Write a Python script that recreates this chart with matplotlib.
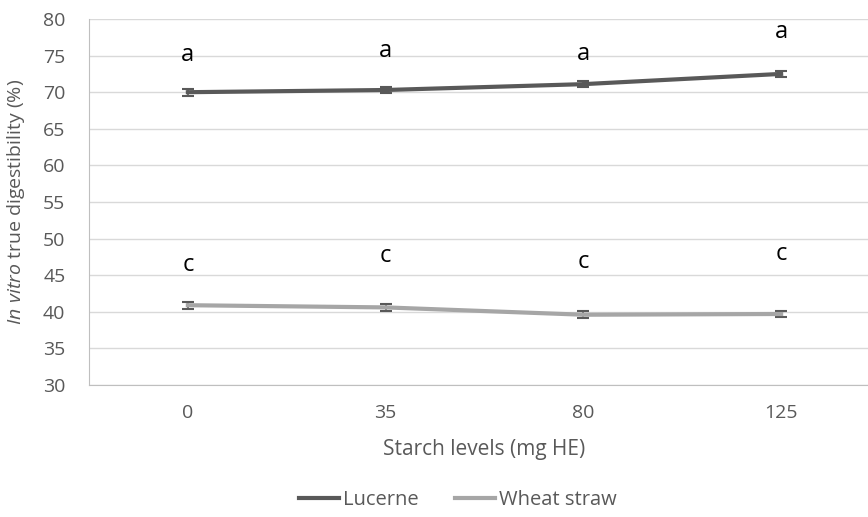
import matplotlib.pyplot as plt
from matplotlib.lines import Line2D

plt.rcParams['font.family'] = ['Open Sans', 'DejaVu Sans']
plt.rcParams['mathtext.fontset'] = 'custom'
plt.rcParams['mathtext.rm'] = 'Open Sans'
plt.rcParams['mathtext.it'] = 'Open Sans:italic'

# data
levels = ['0', '35', '80', '125']
lucerne = [70.0, 70.3, 71.1, 72.5]
lucerne_err = [0.5, 0.45, 0.45, 0.4]
wheat = [40.9, 40.6, 39.6, 39.7]
wheat_err = [0.5, 0.45, 0.45, 0.45]
lucerne_letters = ['a', 'a', 'a', 'a']
lucerne_letter_y = [75.1, 75.6, 75.2, 78.2]
wheat_letters = ['c', 'c', 'c', 'c']
wheat_letter_y = [46.4, 47.6, 46.8, 47.9]

fig = plt.figure(figsize=(8.68, 5.17), dpi=100)
# the plot area runs a little past the right edge of the picture
ax = fig.add_axes([89 / 868, 1 - 385 / 517, 791 / 868, 366 / 517])

x = list(range(len(levels)))
ax.errorbar(x, lucerne, yerr=lucerne_err, color='#595959', lw=3,
            ecolor='#595959', elinewidth=1.2, capsize=4, capthick=1.5,
            zorder=3)
ax.errorbar(x, wheat, yerr=wheat_err, color='#A6A6A6', lw=3,
            ecolor='#595959', elinewidth=1.2, capsize=4, capthick=1.5,
            zorder=3)

for i in x:
    ax.text(i, lucerne_letter_y[i], lucerne_letters[i], ha='center',
            va='center', fontsize=17, color='black')
    ax.text(i, wheat_letter_y[i], wheat_letters[i], ha='center',
            va='center', fontsize=17, color='black')

ax.set_xlim(-0.5, 3.5)
ax.set_ylim(30, 80)
ax.set_yticks(range(30, 81, 5))
ax.set_xticks(x)
ax.set_xticklabels(levels)
ax.grid(axis='y', color='#D9D9D9', lw=1)
ax.set_axisbelow(True)
for s in ['top', 'right']:
    ax.spines[s].set_visible(False)
for s in ['left', 'bottom']:
    ax.spines[s].set_color('#BFBFBF')
ax.tick_params(length=0, labelsize=14, labelcolor='#595959')
ax.tick_params(axis='y', pad=17)
ax.tick_params(axis='x', pad=14)

ax.set_xlabel('Starch levels (mg HE)', fontsize=15, color='#595959',
              labelpad=12)
ax.set_ylabel('$\\mathit{In\\ vitro}$ true digestibility (%)', fontsize=14,
              color='#595959')
ax.yaxis.set_label_coords(-0.078, 0.5)

handles = [Line2D([], [], color='#595959', lw=3),
           Line2D([], [], color='#A6A6A6', lw=3)]
fig.legend(handles, ['Lucerne', 'Wheat straw'], loc='center',
           bbox_to_anchor=(458 / 868, 1 - 500 / 517), ncol=2,
           frameon=False, fontsize=14.5, handlelength=2.0, columnspacing=1.8,
           handletextpad=0.2, labelcolor='#595959')

fig.savefig('out.png', dpi=100)
